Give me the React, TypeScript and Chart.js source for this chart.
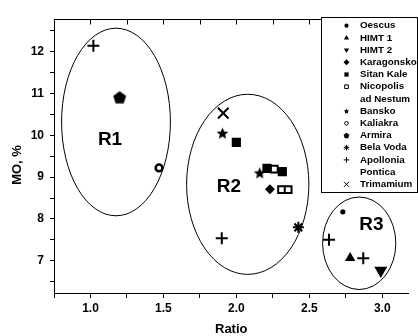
import React, { useEffect, useRef } from 'react';
import { Chart, registerables } from 'chart.js';
import { drawPoint } from 'chart.js/helpers';

Chart.register(...registerables);

const FONT_FAMILY = "'Liberation Sans', Arial, Helvetica, sans-serif";

// ---- Data: [Ratio, MO %] ----
const oescus = [[2.73, 8.17]];
const himt1 = [[2.78, 7.065]];
const himt2 = [[2.99, 6.77]];
const karagonsko = [[2.23, 8.71]];
const sitanKale = [[2.0, 9.83], [2.21, 9.21], [2.315, 9.13]];
const nicopolis = [[2.26, 9.19], [2.31, 8.7], [2.355, 8.7]];
const bansko = [[1.905, 10.05], [2.16, 9.1]];
const kaliakra = [[1.47, 9.22]];
const armira = [[1.2, 10.9]];
const belaVoda = [[2.425, 7.8]];
const apollonia = [[1.02, 12.14], [1.9, 7.54], [2.635, 7.5], [2.87, 7.06]];
const trimamium = [[1.91, 10.53]];

const seriesLabels = [
  ['Oescus'], ['HIMT 1'], ['HIMT 2'], ['Karagonsko'], ['Sitan Kale'],
  ['Nicopolis', 'ad Nestum'], ['Bansko'], ['Kaliakra'], ['Armira'],
  ['Bela Voda'], ['Apollonia', 'Pontica'], ['Trimamium'],
];
const seriesData = [
  oescus, himt1, himt2, karagonsko, sitanKale, nicopolis,
  bansko, kaliakra, armira, belaVoda, apollonia, trimamium,
];

// Region ellipses (data units)
const regionLabels = ['R1', 'R2', 'R3'];
const regionCenterX = [1.175, 2.078, 2.842];
const regionCenterY = [10.318, 8.828, 7.419];
const regionRadiusX = [0.373, 0.419, 0.251];
const regionRadiusY = [2.242, 2.153, 1.105];
const regionLabelX = [1.134, 1.949, 2.925];
const regionLabelY = [9.89, 8.76, 7.85];

const xMin = 0.75;
const xMax = 3.18;
const yMin = 6.23;
const yMax = 12.78;
const xTitle = 'Ratio';
const yTitle = 'MO, %';

// ---- custom shapes ----
function starPath(ctx: CanvasRenderingContext2D, cx: number, cy: number, R: number, r: number) {
  ctx.beginPath();
  for (let i = 0; i < 10; i++) {
    const rad = i % 2 === 0 ? R : r;
    const a = -Math.PI / 2 + (i * Math.PI) / 5;
    const px = cx + rad * Math.cos(a);
    const py = cy + rad * Math.sin(a);
    if (i === 0) ctx.moveTo(px, py); else ctx.lineTo(px, py);
  }
  ctx.closePath();
}
function polyPath(ctx: CanvasRenderingContext2D, cx: number, cy: number, R: number, n: number) {
  ctx.beginPath();
  for (let i = 0; i < n; i++) {
    const a = -Math.PI / 2 + (i * 2 * Math.PI) / n;
    const px = cx + R * Math.cos(a);
    const py = cy + R * Math.sin(a);
    if (i === 0) ctx.moveTo(px, py); else ctx.lineTo(px, py);
  }
  ctx.closePath();
}
function makeMarker(kind: 'star' | 'pent', R: number) {
  const c = document.createElement('canvas');
  const s = Math.ceil(R * 2 + 2);
  c.width = s; c.height = s;
  const g = c.getContext('2d')!;
  g.fillStyle = '#000';
  if (kind === 'star') starPath(g, s / 2, s / 2 + R * 0.08, R, R * 0.45);
  else polyPath(g, s / 2, s / 2 + R * 0.05, R, 5);
  g.fill();
  return c;
}

export default function App() {
  const ref = useRef<HTMLCanvasElement>(null);

  useEffect(() => {
    if (!ref.current) return;
    const starBig = makeMarker('star', 6.2);
    const pentBig = makeMarker('pent', 6.8);

    const styles: any[] = [
      { pointStyle: 'circle', radius: 2.6, bg: '#000', bw: 0, rot: 0 },
      { pointStyle: 'triangle', radius: 6, bg: '#000', bw: 0, rot: 0 },
      { pointStyle: 'triangle', radius: 7.5, bg: '#000', bw: 0, rot: 180 },
      { pointStyle: 'rectRot', radius: 5, bg: '#000', bw: 0, rot: 0 },
      { pointStyle: 'rect', radius: 6.5, bg: '#000', bw: 0, rot: 0 },
      { pointStyle: 'rect', radius: 4.8, bg: '#fff', bw: 2, rot: 0 },
      { pointStyle: starBig, radius: 6, bg: '#000', bw: 0, rot: 0 },
      { pointStyle: 'circle', radius: 3.4, bg: '#fff', bw: 2.5, rot: 0 },
      { pointStyle: pentBig, radius: 6, bg: '#000', bw: 0, rot: 0 },
      { pointStyle: 'star', radius: 5.5, bg: '#000', bw: 2, rot: 0 },
      { pointStyle: 'cross', radius: 6, bg: '#000', bw: 2, rot: 0 },
      { pointStyle: 'crossRot', radius: 7.5, bg: '#000', bw: 2, rot: 0 },
    ];
    const drawOrder = [0, 1, 2, 5, 4, 3, 6, 7, 8, 9, 10, 11];

    const datasets = seriesData.map((pts, i) => ({
      label: seriesLabels[i].join(' '),
      data: pts.map(([x, y]) => ({ x, y })),
      pointStyle: styles[i].pointStyle,
      pointRadius: styles[i].radius,
      pointBackgroundColor: styles[i].bg,
      pointBorderColor: '#000',
      pointBorderWidth: styles[i].bw,
      pointRotation: styles[i].rot,
      showLine: false,
      order: drawOrder.indexOf(i),
    }));

    const legendStyles: any[] = [
      { pointStyle: 'circle', radius: 2.1, fill: true, bw: 0 },
      { pointStyle: 'triangle', radius: 3, fill: true, bw: 0 },
      { pointStyle: 'triangle', radius: 3, fill: true, bw: 0, rot: 180 },
      { pointStyle: 'rectRot', radius: 3, fill: true, bw: 0 },
      { pointStyle: 'rect', radius: 3, fill: true, bw: 0 },
      { pointStyle: 'rect', radius: 2.6, fill: false, bw: 1 },
      { custom: 'star', radius: 3 },
      { pointStyle: 'circle', radius: 1.8, fill: false, bw: 1 },
      { custom: 'pent', radius: 3 },
      { pointStyle: 'star', radius: 2.8, fill: true, bw: 1 },
      { pointStyle: 'cross', radius: 2.8, fill: true, bw: 1 },
      { pointStyle: 'crossRot', radius: 3.6, fill: true, bw: 1 },
    ];

    const decor = {
      id: 'decor',
      beforeDatasetsDraw(chart: any) {
        const { ctx, scales } = chart;
        const x = scales.x, y = scales.y;
        ctx.save();
        ctx.strokeStyle = '#000';
        ctx.lineWidth = 1;
        ctx.fillStyle = '#000';
        ctx.font = `bold 19px ${FONT_FAMILY}`;
        ctx.textAlign = 'center';
        ctx.textBaseline = 'middle';
        regionLabels.forEach((name, i) => {
          const cx = x.getPixelForValue(regionCenterX[i]);
          const cy = y.getPixelForValue(regionCenterY[i]);
          const rx = Math.abs(x.getPixelForValue(regionCenterX[i] + regionRadiusX[i]) - cx);
          const ry = Math.abs(y.getPixelForValue(regionCenterY[i] + regionRadiusY[i]) - cy);
          ctx.beginPath();
          ctx.ellipse(cx, cy, rx, ry, 0, 0, Math.PI * 2);
          ctx.stroke();
          ctx.fillText(name, x.getPixelForValue(regionLabelX[i]), y.getPixelForValue(regionLabelY[i]));
        });
        ctx.restore();
      },
      afterDraw(chart: any) {
        const { ctx, chartArea, scales } = chart;
        const x = scales.x;
        ctx.save();
        ctx.strokeStyle = '#000';
        ctx.lineWidth = 1;
        // top frame with inward ticks
        const ty = Math.round(chartArea.top) + 0.5;
        ctx.beginPath();
        ctx.moveTo(chartArea.left, ty);
        ctx.lineTo(chartArea.right, ty);
        x.ticks.forEach((t: any) => {
          const px = Math.round(x.getPixelForValue(t.value)) + 0.5;
          ctx.moveTo(px, ty);
          ctx.lineTo(px, ty + 5);
        });
        ctx.stroke();

        // y title
        ctx.fillStyle = '#000';
        ctx.font = `bold 13px ${FONT_FAMILY}`;
        ctx.textAlign = 'center';
        ctx.textBaseline = 'middle';
        ctx.save();
        ctx.translate(17.5, 165);
        ctx.rotate(-Math.PI / 2);
        ctx.fillText(yTitle, 0, 0);
        ctx.restore();

        // legend
        const lx = 321, ly = 17, lw = 97, lh = 176;
        ctx.fillStyle = '#fff';
        ctx.fillRect(lx, ly, lw, lh);
        ctx.strokeStyle = '#000';
        ctx.strokeRect(lx + 0.5, ly + 0.5, lw - 1, lh - 1);
        ctx.font = `bold 9.8px ${FONT_FAMILY}`;
        ctx.textAlign = 'left';
        ctx.textBaseline = 'middle';
        let line = 0;
        const rowH = 12.2;
        const y0 = 25.7;
        const sx = 346.5;
        seriesLabels.forEach((lines, i) => {
          const yy = y0 + line * rowH;
          const st = legendStyles[i];
          ctx.fillStyle = st.fill === false ? '#fff' : '#000';
          ctx.strokeStyle = '#000';
          ctx.lineWidth = st.bw || 1;
          if (st.custom === 'star') {
            ctx.fillStyle = '#000';
            starPath(ctx, sx, yy + 0.3, st.radius, st.radius * 0.45);
            ctx.fill();
          } else if (st.custom === 'pent') {
            ctx.fillStyle = '#000';
            polyPath(ctx, sx, yy + 0.2, st.radius, 5);
            ctx.fill();
          } else {
            drawPoint(ctx, { pointStyle: st.pointStyle, radius: st.radius, rotation: st.rot || 0, borderWidth: st.bw } as any, sx, yy);
          }
          ctx.fillStyle = '#000';
          lines.forEach((txt, k) => {
            ctx.fillText(txt, 360, y0 + (line + k) * rowH);
          });
          line += lines.length;
        });
        ctx.restore();
      },
    };

    const chart = new Chart(ref.current, {
      type: 'scatter',
      data: { datasets: datasets as any },
      options: {
        responsive: false,
        animation: false,
        devicePixelRatio: 1,
        layout: { padding: { top: 19, left: 0, right: 0, bottom: 0 } },
        plugins: { legend: { display: false }, tooltip: { enabled: false } },
        scales: {
          x: {
            type: 'linear',
            position: 'bottom',
            min: xMin,
            max: xMax,
            afterFit: (s: any) => { s.height = 43; },
            border: { display: true, color: '#000', width: 1 },
            grid: { display: true, drawOnChartArea: false, drawTicks: true, tickLength: 5, color: '#000', lineWidth: 1 },
            ticks: {
              stepSize: 0.25,
              includeBounds: false,
              autoSkip: false,
              maxRotation: 0,
              padding: 3,
              color: '#000',
              font: { family: FONT_FAMILY, size: 12, weight: 'bold' },
              callback: (v: any) => {
                const n = Number(v);
                return Math.abs(n * 2 - Math.round(n * 2)) < 1e-6 ? n.toFixed(1) : '';
              },
            },
            title: {
              display: true,
              text: xTitle,
              color: '#000',
              padding: { top: 0, bottom: 0 },
              font: { family: FONT_FAMILY, size: 13, weight: 'bold', lineHeight: 1 },
            },
          },
          y: {
            type: 'linear',
            position: 'left',
            min: yMin,
            max: yMax,
            afterFit: (s: any) => { s.width = 54; },
            border: { display: true, color: '#000', width: 1 },
            grid: { display: true, drawOnChartArea: false, drawTicks: true, tickLength: 4, color: '#000', lineWidth: 1 },
            ticks: {
              stepSize: 0.5,
              includeBounds: false,
              autoSkip: false,
              padding: 6,
              color: '#000',
              font: { family: FONT_FAMILY, size: 12, weight: 'bold' },
              callback: (v: any) => {
                const n = Number(v);
                return Math.abs(n - Math.round(n)) < 1e-6 ? String(Math.round(n)) : '';
              },
            },
            title: { display: false },
          },
        },
      } as any,
      plugins: [decor],
    });
    return () => chart.destroy();
  }, []);

  return (
    <div style={{ position: 'fixed', left: 0, top: 0, width: 418, height: 336, background: '#fff' }}>
      <canvas ref={ref} width={418} height={336} style={{ display: 'block' }} />
    </div>
  );
}
